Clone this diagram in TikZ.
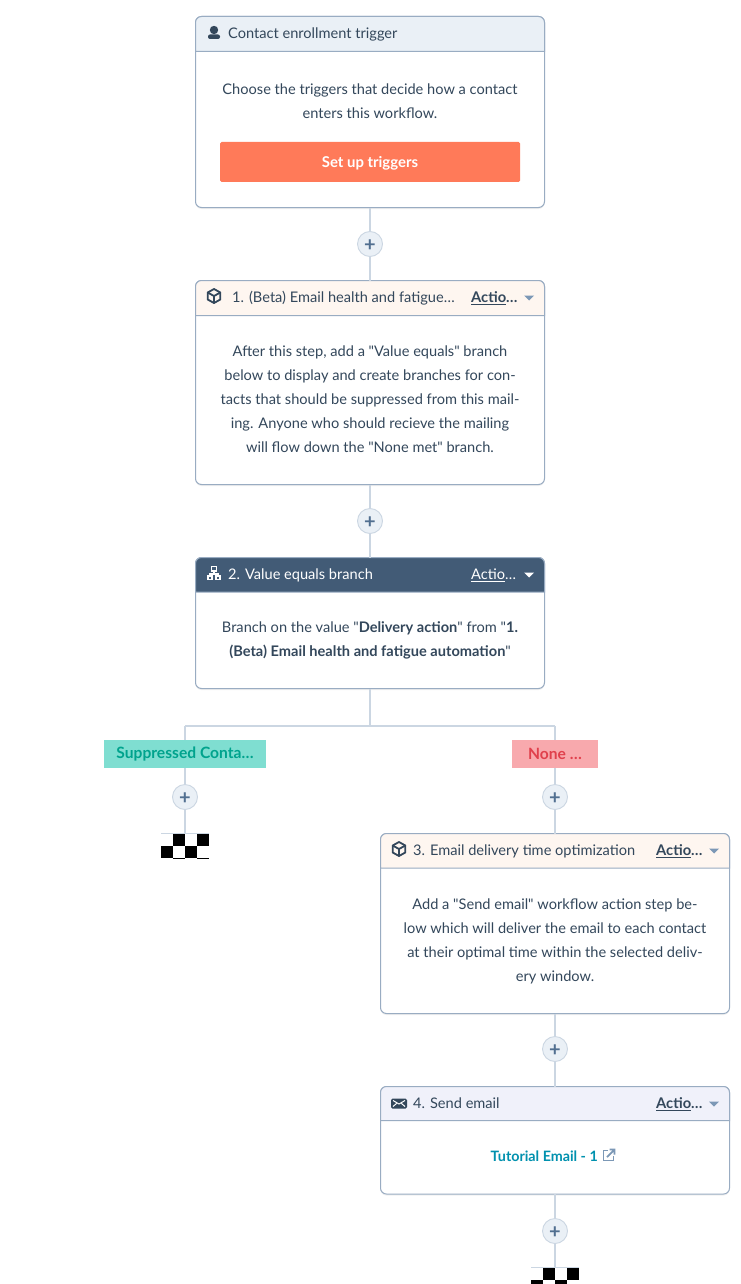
\documentclass[tikz,border=0pt]{standalone}
\usepackage{fontspec}
\setmainfont{Lato}[Ligatures=TeXOff]
\usetikzlibrary{shadows}

\definecolor{inkblue}{HTML}{33475B}
\definecolor{cardline}{HTML}{99ACC2}
\definecolor{wireblue}{HTML}{CBD6E2}
\definecolor{headtrigger}{HTML}{EAF0F6}
\definecolor{headpeach}{HTML}{FEF6F0}
\definecolor{headbranch}{HTML}{425B76}
\definecolor{heademail}{HTML}{F0F1FA}
\definecolor{btnorange}{HTML}{FF7A59}
\definecolor{tealfill}{HTML}{7FDED1}
\definecolor{tealtext}{HTML}{00A38D}
\definecolor{redfill}{HTML}{F8A9AD}
\definecolor{redtext}{HTML}{E0404C}
\definecolor{linkteal}{HTML}{0091AE}
\definecolor{plusblue}{HTML}{516F90}
\definecolor{iconblue}{HTML}{7C98B6}

\tikzset{
  card/.style={draw=cardline, line width=1pt, fill=white, rounded corners=6pt, inner sep=0pt, outer sep=0pt, minimum width=349pt,
    drop shadow={shadow xshift=0pt, shadow yshift=-1.5pt, opacity=.12}},
  headfill/.style={draw=cardline, line width=1pt},
  wire/.style={wireblue, line width=2pt},
  thinwire/.style={wireblue, line width=1.2pt},
  plusbtn/.style={circle, draw=wireblue, line width=.9pt, fill=headtrigger, minimum size=25pt, inner sep=0pt, text=plusblue, text height=14pt, text depth=0pt, font=\fontsize{20}{20}\selectfont\bfseries},
  headtext/.style={anchor=west, inner sep=0pt, text=inkblue, text height=12pt, text depth=1pt, font=\fontsize{14.6}{16}\selectfont},
  actionlink/.style={headtext, font=\fontsize{14.7}{16}\selectfont\bfseries},
  bodytext/.style={align=center, inner sep=0pt, text=inkblue, font=\fontsize{14.6}{24}\selectfont},
  branchtag/.style={inner sep=0pt, minimum height=28pt, font=\fontsize{15.6}{16}\selectfont\bfseries},
}

\begin{document}
\begin{tikzpicture}[x=1pt, y=-1pt]

\useasboundingbox [fill=white] (0,0) rectangle (740,1284);

% cards
\node [card, minimum height=191pt] (trigger) at (370,112) {};
\node [card, minimum height=204pt] (health) at (370,382.5) {};
\node [card, minimum height=131pt] (branch) at (370,623) {};
\node [card, minimum height=180pt] (timing) at (555,923.5) {};
\node [card, minimum height=107.5pt] (send) at (555,1140.25) {};

% card headers
\draw [headfill, fill=headtrigger] (195.5,51.5) [rounded corners=6pt] -- (195.5,16.5) -- (544.5,16.5) [sharp corners] -- (544.5,51.5) -- cycle;
\draw [headfill, fill=headpeach] (195.5,315.5) [rounded corners=6pt] -- (195.5,280.5) -- (544.5,280.5) [sharp corners] -- (544.5,315.5) -- cycle;
\draw [headfill, fill=headbranch] (195.5,592) [rounded corners=6pt] -- (195.5,557.5) -- (544.5,557.5) [sharp corners] -- (544.5,592) -- cycle;
\draw [headfill, fill=headpeach] (380.5,868) [rounded corners=6pt] -- (380.5,833.5) -- (729.5,833.5) [sharp corners] -- (729.5,868) -- cycle;
\draw [headfill, fill=heademail] (380.5,1120.5) [rounded corners=6pt] -- (380.5,1086.5) -- (729.5,1086.5) [sharp corners] -- (729.5,1120.5) -- cycle;

% header labels
\node [headtext] (triggerhead) at (228,33) {Contact enrollment trigger};
\node [headtext] (healthhead) at (232,297) {1. (Beta) Email health and fatigue\ldots};
\node [headtext, text=white] (branchhead) at (228,574) {2. Value equals branch};
\node [headtext] (timinghead) at (413,850) {3. Email delivery time optimization};
\node [headtext] (sendhead) at (413,1103) {4. Send email};

\node [actionlink] (healthaction) at (471,297) {\underline{Actio}\ldots};
\node [headtext, text=white] (branchaction) at (471,574) {\underline{Actio}\ldots};
\node [actionlink] (timingaction) at (656,850) {\underline{Actio}\ldots};
\node [actionlink] (sendaction) at (656,1103) {\underline{Actio}\ldots};

% carets
\fill [iconblue] (524,295.5) -- (534,295.5) -- (529,300.5) -- cycle;
\fill [white] (524,572.5) -- (534,572.5) -- (529,577.5) -- cycle;
\fill [iconblue] (709,848.5) -- (719,848.5) -- (714,853.5) -- cycle;
\fill [iconblue] (709,1101.5) -- (719,1101.5) -- (714,1106.5) -- cycle;

% icons
\fill [inkblue] (214,30) circle (4.2pt);
\fill [inkblue, rounded corners=2pt] (208,39) -- (208,34.5) -- (220,34.5) -- (220,39) -- cycle;
\foreach \cx/\cy in {214/296, 399/849} {
  \draw [inkblue, line width=1.8pt, line join=round] (\cx,\cy-7) -- (\cx+6.3,\cy-3.5) -- (\cx+6.3,\cy+3.5) -- (\cx,\cy+7) -- (\cx-6.3,\cy+3.5) -- (\cx-6.3,\cy-3.5) -- cycle;
  \draw [inkblue, line width=1.8pt, line join=round] (\cx-6.3,\cy-3.5) -- (\cx,\cy) -- (\cx+6.3,\cy-3.5) (\cx,\cy) -- (\cx,\cy+7);
}
\draw [white, line width=1.7pt] (211.5,566.5) rectangle (216.5,571);
\draw [white, line width=1.7pt] (208,576) rectangle (212,579.5);
\draw [white, line width=1.7pt] (216,576) rectangle (220,579.5);
\draw [white, line width=1.3pt] (214,571) -- (214,574) (210,576) -- (210,574) -- (218,574) -- (218,576);
\fill [inkblue, rounded corners=1.5pt] (391,1098.5) rectangle (407,1108.5);
\draw [white, line width=1pt] (393,1100.5) -- (399,1104) -- (405,1100.5) (393,1106.5) -- (396.5,1103.5) (405,1106.5) -- (401.5,1103.5);
\draw [iconblue, line width=1.8pt] (608,1150.5) -- (603.5,1150.5) -- (603.5,1160.5) -- (613.5,1160.5) -- (613.5,1156);
\draw [iconblue, line width=1.8pt] (607,1157) -- (614.5,1149.5) (609.5,1149.5) -- (614.5,1149.5) -- (614.5,1154.5);

% card text
\node [bodytext] (triggertext) at (370,101.5) {Choose the triggers that decide how a contact\\enters this workflow.};
\node [fill=btnorange, rounded corners=1.5pt, minimum width=300pt, minimum height=40pt, inner sep=0pt, text=white, text height=12pt, text depth=1pt, font=\fontsize{14.9}{16}\selectfont\bfseries] (setup) at (370,162) {Set up triggers};
\node [bodytext] (healthtext) at (370,399.5) {After this step, add a "Value equals" branch\\below to display and create branches for con-\\tacts that should be suppressed from this mail-\\ing. Anyone who should recieve the mailing\\will flow down the "None met" branch.};
\node [bodytext] (branchtext) at (370,640.5) {Branch on the value "\textbf{Delivery action}" from "\textbf{1.}\\\textbf{(Beta) Email health and fatigue automation}"};
\node [bodytext] (timingtext) at (555,941.5) {Add a "Send email" workflow action step be-\\low which will deliver the email to each contact\\at their optimal time within the selected deliv-\\ery window.};
\node [anchor=east, inner sep=0pt, text=linkteal, text height=12pt, text depth=1pt, font=\fontsize{14.3}{16}\selectfont\bfseries] (emaillink) at (598,1156) {Tutorial Email - 1};

% add buttons
\node [plusbtn] (addone) at (370,244) {+};
\node [plusbtn] (addtwo) at (370,521) {+};
\node [plusbtn] (addleft) at (185,797) {+};
\node [plusbtn] (addright) at (555,797) {+};
\node [plusbtn] (addthree) at (555,1049) {+};
\node [plusbtn] (addfour) at (555,1231) {+};

% branch labels
\node [branchtag, fill=tealfill, text=tealtext, minimum width=162pt] (taggreen) at (185,754) {Suppressed Conta\ldots};
\node [branchtag, fill=redfill, text=redtext, minimum width=86pt] (tagred) at (555,754) {None \ldots};

\coordinate (split) at (370,726);
\coordinate (splitleft) at (185,726);
\coordinate (splitright) at (555,726);
\coordinate (endleft) at (185,833);
\coordinate (endright) at (555,1267.5);

% connectors
\draw [wire] (trigger.south) -- (addone);
\draw [wire] (addone) -- (health.north);
\draw [wire] (health.south) -- (addtwo);
\draw [wire] (addtwo) -- (branch.north);
\draw [wire] (branch.south) -- (split);
\draw [thinwire] (splitleft) -- (splitright);
\draw [wire] (splitleft) -- (taggreen);
\draw [wire] (splitright) -- (tagred);
\draw [wire] (taggreen) -- (addleft);
\draw [wire] (tagred) -- (addright);
\draw [wire] (addleft) -- (endleft);
\draw [wire] (addright) -- (timing.north);
\draw [wire] (timing.south) -- (addthree);
\draw [wire] (addthree) -- (send.north);
\draw [wire] (send.south) -- (addfour);
\draw [wire] (addfour) -- (endright);

% checkered ends
\draw [wireblue, line width=.8pt] (161,833) -- (209,833);
\foreach \sx in {173,197} {
  \fill [black] (\sx,834) rectangle (\sx+12,846);
  \fill [black] (\sx-12,846) rectangle (\sx,858);
  \draw [black, line width=.8pt] (\sx,858.5) -- (\sx+12,858.5);
}
\draw [wireblue, line width=.8pt] (531,1267.5) -- (579,1267.5);
\foreach \sx in {543,567} {
  \fill [black] (\sx,1268) rectangle (\sx+12,1280);
  \fill [black] (\sx-12,1280) rectangle (\sx,1284);
}

\end{tikzpicture}
\end{document}
